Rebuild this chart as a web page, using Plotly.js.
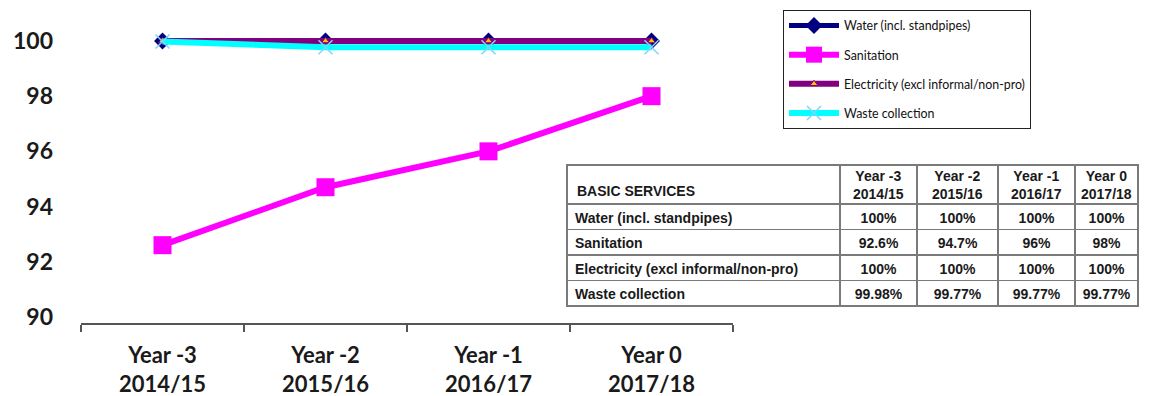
<!DOCTYPE html>
<html><head><meta charset="utf-8">
<script src="https://cdn.plot.ly/plotly-3.0.1.min.js"></script>
<style>html,body{margin:0;padding:0;background:#fff}#chart{width:1153px;height:396px}</style>
</head><body><div id="chart"></div>
<script>
const categories = ["Year -3<br>2014/15", "Year -2<br>2015/16", "Year -1<br>2016/17", "Year 0<br>2017/18"];
const tableTitle = "BASIC SERVICES";
const tableYears = ["Year -3<br>2014/15", "Year -2<br>2015/16", "Year -1<br>2016/17", "Year 0<br>2017/18"];
const seriesNames = ["Water (incl. standpipes)", "Sanitation", "Electricity (excl informal/non-pro)", "Waste collection"];
const water = [100, 100, 100, 100];
const sanitation = [92.6, 94.7, 96, 98];
const electricity = [100, 100, 100, 100];
const waste = [99.98, 99.77, 99.77, 99.77];
const tableWater = ["100%", "100%", "100%", "100%"];
const tableSanitation = ["92.6%", "94.7%", "96%", "98%"];
const tableElectricity = ["100%", "100%", "100%", "100%"];
const tableWaste = ["99.98%", "99.77%", "99.77%", "99.77%"];
const yTicks = [90, 92, 94, 96, 98, 100];
const gridTicks = [92, 94, 96, 98, 100];

const W = 1153, H = 396;
const px = v => v / W, py = v => 1 - v / H;
const tableFont = {family: 'Liberation Sans, Arial, sans-serif', size: 14, color: '#1a1a1a', weight: 'bold'};

// table geometry (pixels)
const tblLeft = 567, tblRight = 1138, tblTop = 165, headH = 39, rowH = 25.5;
const colW = [273, 77, 81, 77, 63];

const traces = [
  {x: categories, y: water, name: seriesNames[0], legendgroup: 'a', type: 'scatter', mode: 'lines+markers',
   line: {color: '#000080', width: 5}, marker: {symbol: 'diamond', size: 13, color: '#000080'}},
  {x: categories, y: sanitation, name: seriesNames[1], legendgroup: 'b', type: 'scatter', mode: 'lines+markers',
   line: {color: '#FF00FF', width: 6}, marker: {symbol: 'square', size: 18, color: '#FF00FF'}},
  {x: categories, y: electricity, name: seriesNames[2], legendgroup: 'c', type: 'scatter', mode: 'lines+markers',
   line: {color: '#800080', width: 6}, marker: {symbol: 'triangle-up', size: 7, color: '#FFC000', line: {color: '#800080', width: 1}}},
  {x: categories, y: waste, name: seriesNames[3], legendgroup: 'd', type: 'scatter', mode: 'lines+markers',
   line: {color: '#00FFFF', width: 6}, marker: {symbol: 'x-thin', size: 14, color: '#7FD4FF', line: {color: '#7FD4FF', width: 1.5}}},
  {type: 'table', domain: {x: [px(tblLeft), px(tblRight)], y: [0, py(tblTop)]},
   columnwidth: colW,
   header: {values: ['', '', '', '', ''], height: headH,
     line: {color: '#7a7a7a', width: 1.5}, fill: {color: '#fff'}, font: tableFont},
   cells: {values: [seriesNames, [tableWater[0], tableSanitation[0], tableElectricity[0], tableWaste[0]],
       [tableWater[1], tableSanitation[1], tableElectricity[1], tableWaste[1]],
       [tableWater[2], tableSanitation[2], tableElectricity[2], tableWaste[2]],
       [tableWater[3], tableSanitation[3], tableElectricity[3], tableWaste[3]]],
     align: ['left', 'center', 'center', 'center', 'center'], height: rowH,
     line: {color: '#7a7a7a', width: 1.5}, fill: {color: '#fff'}, font: tableFont}}
];

// header texts as annotations (bottom-aligned title, centered two-line year headers)
const annotations = [];
annotations.push({text: tableTitle, xref: 'paper', yref: 'paper', x: px(tblLeft + 8), y: py(tblTop + headH - 3),
  xanchor: 'left', yanchor: 'bottom', showarrow: false, font: tableFont});
let edge = tblLeft + colW[0];
tableYears.forEach((t, i) => {
  const c = edge + colW[i + 1] / 2;
  annotations.push({text: t, xref: 'paper', yref: 'paper', x: px(c), y: py(tblTop + headH / 2 + 0.5),
    xanchor: 'center', yanchor: 'middle', showarrow: false, font: tableFont});
  edge += colW[i + 1];
});

const yRange = [89.78, 100.76];
const layout = {
  width: W, height: H, margin: {l: 0, r: 0, t: 0, b: 0},
  paper_bgcolor: '#fff', plot_bgcolor: 'rgba(0,0,0,0)',
  showlegend: true, annotations: annotations,
  xaxis: {domain: [px(81), px(733)], type: 'category', range: [-0.5, 3.5], tickson: 'boundaries',
    ticks: 'outside', ticklen: 7, tickwidth: 1.5, tickcolor: '#555', showline: true, linecolor: '#555', linewidth: 2,
    showgrid: false, zeroline: false, fixedrange: true, ticklabelstandoff: 12,
    tickfont: {family: 'Lato', size: 22, color: '#1a1a1a', weight: 'bold'}},
  yaxis: {domain: [py(323), py(20)], range: yRange, tickvals: yTicks, ticktext: yTicks.map(String),
    showgrid: false, zeroline: false, showline: false, ticks: '', ticklabelstandoff: 27,
    tickfont: {family: 'Lato', size: 23, color: '#1a1a1a', weight: 'bold'}},
  yaxis2: {domain: [py(323), py(20)], overlaying: 'y', range: yRange, tickvals: gridTicks,
    showgrid: true, gridcolor: '#111', gridwidth: 1.5, showticklabels: false, zeroline: false, ticks: ''},
  legend: {x: px(783), y: py(10), xanchor: 'left', yanchor: 'top', bgcolor: '#fff', bordercolor: '#222', borderwidth: 1,
    font: {family: 'Lato', size: 12.4, color: '#111'}, traceorder: 'grouped', tracegroupgap: 10, itemwidth: 50}
};
Plotly.newPlot('chart', traces, layout, {displayModeBar: false, staticPlot: true});
</script></body></html>
